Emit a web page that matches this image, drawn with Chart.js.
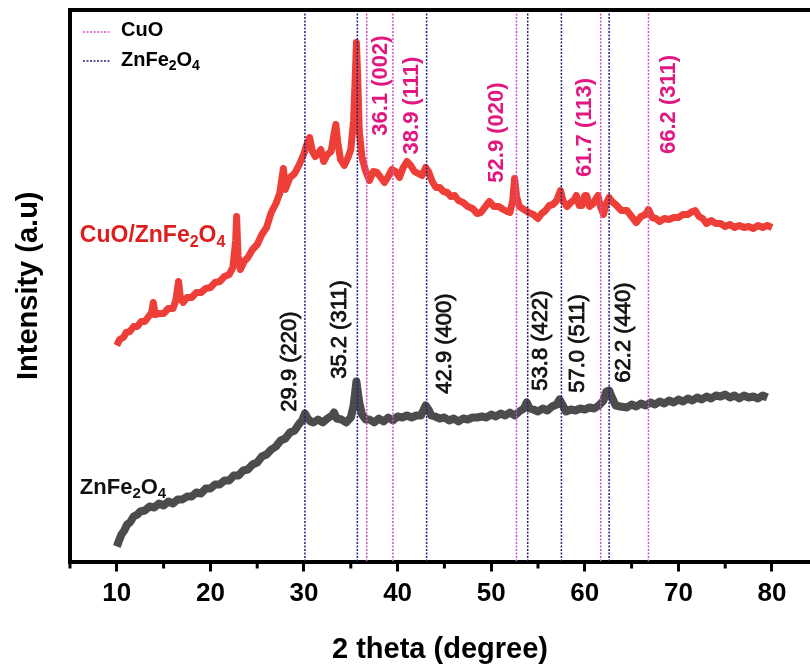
<!DOCTYPE html>
<html><head><meta charset="utf-8">
<script src="https://cdn.jsdelivr.net/npm/chart.js@4.4.1/dist/chart.umd.min.js"></script>
<style>html,body{margin:0;padding:0;background:#fff;}#wrap{width:810px;height:664px;}</style>
</head><body><div id="wrap"><canvas id="c" width="810" height="664"></canvas></div>
<script>
// ---- data (2 theta in degrees, intensity in arbitrary units) ----
const cuoZfTheta = [10.0,10.3,10.7,11.0,11.4,11.8,12.2,12.6,13.0,13.4,13.7,13.9,14.1,14.5,15.0,15.5,16.0,16.3,16.6,16.8,17.1,17.5,18.0,18.5,19.0,19.5,20.0,20.5,21.0,21.5,22.0,22.4,22.7,22.8,22.95,23.2,23.6,24.0,24.5,25.0,25.5,26.0,26.5,27.0,27.4,27.8,28.0,28.5,29.0,29.5,30.0,30.3,30.6,30.9,31.2,31.5,31.8,32.1,32.5,32.9,33.2,33.4,33.6,33.9,34.3,34.7,35.0,35.3,35.5,35.6,35.75,35.9,36.2,36.6,37.0,37.4,37.8,38.2,38.6,39.0,39.4,39.8,40.2,40.6,41.0,41.4,41.8,42.2,42.6,43.0,43.3,43.7,44.1,44.5,44.9,45.3,45.7,46.1,46.5,47.0,47.5,48.0,48.5,48.9,49.3,49.8,50.3,50.8,51.3,51.7,52.0,52.3,52.5,52.7,53.0,53.5,54.0,54.5,55.0,55.4,55.8,56.2,56.6,57.0,57.4,57.7,58.1,58.5,58.9,59.1,59.4,59.7,60.0,60.2,60.5,60.9,61.2,61.4,61.7,62.0,62.3,62.6,62.9,63.4,63.9,64.5,65.0,65.5,66.0,66.5,66.8,67.2,67.6,68.0,68.5,69.0,69.5,70.0,70.5,71.0,71.5,71.8,72.2,72.6,73.0,73.5,74.0,74.5,75.0,75.5,76.0,76.5,77.0,77.5,78.0,78.5,79.0,79.5,80.0];
const cuoZfIntensity = [216,222,224,229,230,235,235,240,240,245,248,259,247,248,248,253,253,261,280,263,259,264,264,269,269,273,274,279,280,285,287,294,321,345,306,292,300,304,312,317,327,334,349,358,368,393,372,384,388,397,408,417,424,410,405,408,412,400,407,410,427,437,420,402,396,404,412,441,491,519,481,431,404,390,381,390,389,384,379,385,392,390,384,394,400,396,390,388,386,394,390,380,374,374,370,369,365,366,361,359,355,353,348,349,354,360,355,355,352,350,349,361,383,366,355,352,349,347,343,348,351,356,357,361,371,360,355,359,362,366,356,356,366,366,355,358,363,366,354,347,358,364,360,356,351,351,345,339,345,347,352,344,343,340,343,342,344,344,347,347,350,351,345,343,338,341,338,338,335,337,334,336,334,335,333,336,334,336,334,336,333];
const zfTheta = [10.0,10.2,10.5,10.8,11.1,11.4,11.8,12.2,12.5,13.0,13.5,14.0,14.5,15.0,15.5,16.0,16.5,17.0,17.5,18.0,18.5,19.0,19.5,20.0,20.5,21.0,21.5,22.0,22.5,23.0,23.5,24.0,24.5,25.0,25.5,26.0,26.5,27.0,27.5,28.0,28.5,29.0,29.5,29.8,30.1,30.4,30.7,31.0,31.5,32.0,32.5,33.0,33.2,33.5,34.0,34.5,35.0,35.3,35.6,35.9,36.2,36.6,37.0,37.5,38.0,38.5,39.0,39.5,40.0,40.5,41.0,41.5,42.0,42.5,43.0,43.3,43.6,44.0,44.5,45.0,45.5,46.0,46.5,47.0,47.5,48.0,48.5,49.0,49.5,50.0,50.5,51.0,51.5,52.0,52.5,53.0,53.5,53.8,54.1,54.5,55.0,55.5,56.0,56.5,57.0,57.3,57.6,58.0,58.5,59.0,59.5,60.0,60.5,61.0,61.5,62.0,62.3,62.6,62.9,63.3,63.8,64.5,65.0,65.5,66.0,66.5,67.0,67.5,68.0,68.5,69.0,69.5,70.0,70.5,71.0,71.5,72.0,72.5,73.0,73.5,74.0,74.5,75.0,75.5,76.0,76.5,77.0,77.5,78.0,78.5,79.0,79.5,80.0];
const zfIntensity = [15,20,27,31,37,39,45,47,50,51,55,54,58,56,60,58,62,62,65,65,69,68,73,73,77,77,81,81,86,86,91,92,97,99,105,107,112,115,121,123,129,131,138,141,148,143,140,139,142,139,143,146,149,143,142,139,144,156,180,159,147,142,142,139,143,140,144,141,145,144,146,144,146,146,156,152,146,145,143,144,141,143,140,143,142,144,144,145,144,147,145,148,146,149,146,150,153,159,153,152,150,153,151,155,157,162,157,150,152,151,153,152,154,153,156,161,170,171,164,156,155,154,157,155,158,156,159,157,160,158,161,159,162,160,163,161,164,162,165,163,166,165,167,164,166,163,166,164,165,163,166,164];

// reference lines (peak positions, degrees) and their labels
const zfPeakTheta = [30.1, 35.7, 43.1, 53.9, 57.5, 62.6];
const cuoPeakTheta = [36.7, 39.5, 52.7, 61.7, 66.8];
const zfPeakLabels = ['29.9 (220)', '35.2 (311)', '42.9 (400)', '53.8 (422)', '57.0 (511)', '62.2 (440)'];
const cuoPeakLabels = ['36.1 (002)', '38.9 (111)', '52.9 (020)', '61.7 (113)', '66.2 (311)'];
const xTickValues = [10, 20, 30, 40, 50, 60, 70, 80];

// ---- placement of text annotations (data units) ----
const zfLabelAt = [[28.5, 200], [33.8, 232], [45.05, 218], [55.3, 221], [59.3, 218], [64.2, 229]];
const cuoLabelAt = [[38.2, 476], [41.5, 456], [50.6, 429], [60.0, 434], [69.0, 457]];

const RED = 'rgb(238,62,56)';
const GREY = 'rgb(76,76,76)';
const NAVY = 'rgb(32,32,125)';
const PINK = 'rgb(210,80,200)';
const FONT = 'Liberation Sans, Arial, Helvetica, sans-serif';

function pairs(xs, ys) { return xs.map((x, i) => ({x: x, y: ys[i]})); }
function vlines(ts) {
  const out = [];
  ts.forEach(t => { out.push({x: t, y: 0}); out.push({x: t, y: 551.5}); out.push({x: t, y: null}); });
  return out;
}

function drawSub(ctx, parts, x, y, size, color, weight) {
  ctx.save();
  ctx.fillStyle = color;
  ctx.textBaseline = 'alphabetic';
  ctx.textAlign = 'left';
  let cx = x;
  parts.forEach(p => {
    const sub = p[1];
    const fs = sub ? Math.round(size * 0.68) : size;
    ctx.font = weight + ' ' + fs + 'px ' + FONT;
    ctx.fillText(p[0], cx, sub ? y + size * 0.22 : y);
    cx += ctx.measureText(p[0]).width;
  });
  ctx.restore();
}

const annot = {
  id: 'annot',
  afterDraw(chart) {
    const ctx = chart.ctx, xs = chart.scales.x, ys = chart.scales.y, ca = chart.chartArea;
    // top frame
    ctx.save();
    ctx.strokeStyle = '#000'; ctx.lineWidth = 4;
    ctx.beginPath(); ctx.moveTo(ca.left - 2, ca.top); ctx.lineTo(ca.right + 2, ca.top); ctx.stroke();
    // minor ticks
    ctx.lineWidth = 3;
    for (let v = 5; v <= 80; v += 10) {
      const px = xs.getPixelForValue(v);
      ctx.beginPath(); ctx.moveTo(px, ca.bottom); ctx.lineTo(px, ca.bottom + 7); ctx.stroke();
    }
    ctx.restore();
    // peak labels
    function rot(text, at, color, weight, stroke) {
      ctx.save();
      ctx.translate(xs.getPixelForValue(at[0]), ys.getPixelForValue(at[1]));
      ctx.rotate(-Math.PI / 2);
      ctx.font = weight + ' 22px ' + FONT;
      ctx.fillStyle = color; ctx.textAlign = 'center'; ctx.textBaseline = 'middle';
      ctx.fillText(text, 0, 0);
      if (stroke) { ctx.strokeStyle = color; ctx.lineWidth = stroke; ctx.strokeText(text, 0, 0); }
      ctx.restore();
    }
    zfPeakLabels.forEach((t, i) => rot(t, zfLabelAt[i], '#111', 'normal', 0.8));
    cuoPeakLabels.forEach((t, i) => rot(t, cuoLabelAt[i], 'rgb(226,24,128)', 'bold', 0));
    // series labels
    drawSub(ctx, [['CuO/ZnFe', 0], ['2', 1], ['O', 0], ['4', 1]], xs.getPixelForValue(6.05), ys.getPixelForValue(320), 23, 'rgb(222,30,30)', 'bold');
    drawSub(ctx, [['ZnFe', 0], ['2', 1], ['O', 0], ['4', 1]], xs.getPixelForValue(6.05), ys.getPixelForValue(68), 22, '#111', 'bold');
    // legend
    ctx.save();
    ctx.lineWidth = 1.5; ctx.setLineDash([2, 1.5]);
    ctx.strokeStyle = PINK;
    ctx.beginPath(); ctx.moveTo(ca.left + 13, ca.top + 22); ctx.lineTo(ca.left + 40, ca.top + 22); ctx.stroke();
    ctx.strokeStyle = NAVY;
    ctx.beginPath(); ctx.moveTo(ca.left + 13, ca.top + 51); ctx.lineTo(ca.left + 40, ca.top + 51); ctx.stroke();
    ctx.restore();
    drawSub(ctx, [['CuO', 0]], ca.left + 51, ca.top + 26, 20, '#000', 'bold');
    drawSub(ctx, [['ZnFe', 0], ['2', 1], ['O', 0], ['4', 1]], ca.left + 51, ca.top + 56, 20, '#000', 'bold');
  }
};

new Chart(document.getElementById('c'), {
  type: 'line',
  data: {
    datasets: [
      {data: vlines(zfPeakTheta), borderColor: NAVY, borderWidth: 1.5, borderDash: [2, 1.5], pointRadius: 0, spanGaps: false, fill: false},
      {data: vlines(cuoPeakTheta), borderColor: PINK, borderWidth: 1.5, borderDash: [2, 1.5], pointRadius: 0, spanGaps: false, fill: false},
      {data: pairs(cuoZfTheta, cuoZfIntensity), borderColor: RED, borderWidth: 7, pointRadius: 0, tension: 0, fill: false, borderJoinStyle: 'round'},
      {data: pairs(zfTheta, zfIntensity), borderColor: GREY, borderWidth: 8, pointRadius: 0, tension: 0, fill: false, borderJoinStyle: 'round'}
    ]
  },
  options: {
    responsive: false, animation: false, devicePixelRatio: 1,
    layout: {padding: {left: 0, right: 0, top: 10, bottom: 0}},
    plugins: {legend: {display: false}, tooltip: {enabled: false}},
    scales: {
      x: {
        type: 'linear', min: 5, max: 84.06,
        afterFit: s => { s.height = 102.5; },
        afterBuildTicks: s => { s.ticks = xTickValues.map(v => ({value: v})); },
        ticks: {font: {family: FONT, size: 26, weight: 'bold'}, color: '#000', padding: 7, maxRotation: 0, autoSkip: false},
        grid: {drawOnChartArea: false, drawTicks: true, tickLength: 10, tickWidth: 3, tickColor: '#000'},
        border: {color: '#000', width: 4},
        title: {display: true, text: '2 theta (degree)', font: {family: FONT, size: 29, weight: 'bold', lineHeight: 1}, color: '#000', padding: {top: 0, bottom: 0}}
      },
      y: {
        min: 0, max: 551.5,
        afterFit: s => { s.width = 70; },
        ticks: {display: false},
        grid: {drawOnChartArea: false, drawTicks: false},
        border: {color: '#000', width: 4},
        title: {display: true, text: 'Intensity (a.u)', font: {family: FONT, size: 29, weight: 'bold', lineHeight: 1}, color: '#000', padding: {top: 14, bottom: 0}}
      }
    }
  },
  plugins: [annot]
});
</script>
</body></html>
